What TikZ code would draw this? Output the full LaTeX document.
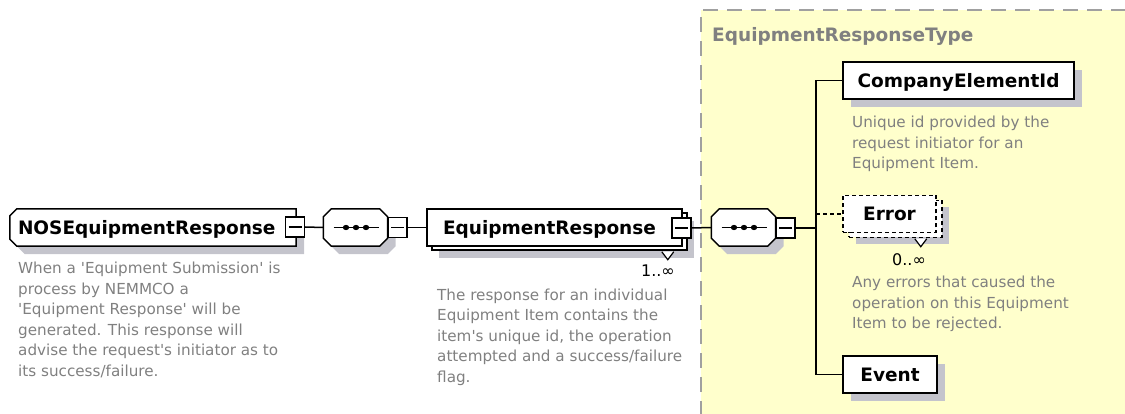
\documentclass[tikz,border=0pt]{standalone}
\usepackage{fontspec}
\setmainfont{DejaVu Sans}
\usetikzlibrary{shadows}
\definecolor{bgyellow}{RGB}{255,255,204}
\definecolor{framegray}{RGB}{160,160,160}
\definecolor{shadowgray}{RGB}{196,196,204}
\definecolor{descgray}{RGB}{128,128,128}
\newcommand\aq{\textquotesingle}
\pgfdeclarelayer{bg}
\pgfsetlayers{bg,main}
% chamfered outline of node #1, chamfer #2, shifted by (#3 right, #4 down); left corners only
\newcommand\leftoct[4]{([xshift={#3+#2},yshift={-#4}]#1.north west) -- ([xshift={#3},yshift={-#4}]#1.north east)
  -- ([xshift={#3},yshift={-#4}]#1.south east) -- ([xshift={#3+#2},yshift={-#4}]#1.south west)
  -- ([xshift={#3},yshift={-#4+#2}]#1.south west) -- ([xshift={#3},yshift={-#4-#2}]#1.north west) -- cycle}
% all corners chamfered
\newcommand\fulloct[4]{([xshift={#3+#2},yshift={-#4}]#1.north west) -- ([xshift={#3-#2},yshift={-#4}]#1.north east)
  -- ([xshift={#3},yshift={-#4-#2}]#1.north east) -- ([xshift={#3},yshift={-#4+#2}]#1.south east)
  -- ([xshift={#3-#2},yshift={-#4}]#1.south east) -- ([xshift={#3+#2},yshift={-#4}]#1.south west)
  -- ([xshift={#3},yshift={-#4+#2}]#1.south west) -- ([xshift={#3},yshift={-#4-#2}]#1.north west) -- cycle}
\tikzset{
  lw/.style={line width=1.5pt},
  namefont/.style={font=\fontsize{18.5}{22}\selectfont\bfseries},
  elembase/.style={namefont, lw, draw=black, fill=white, inner ysep=0pt,
    minimum height=37pt, text height=15pt, text depth=1.7pt},
  sshadow/.style={general shadow={fill=shadowgray, shadow xshift=8pt, shadow yshift=-8pt}},
  mshadow/.style={general shadow={fill=shadowgray, shadow xshift=12pt, shadow yshift=-12pt},
    general shadow={fill=white, draw=black, line width=1.5pt, shadow xshift=5pt, shadow yshift=-4pt}},
  dshadow/.style={general shadow={fill=shadowgray, shadow xshift=13pt, shadow yshift=-12pt},
    general shadow={fill=white, draw=black, line width=1.5pt, dash pattern=on 4pt off 3pt, shadow xshift=6pt, shadow yshift=-5pt}},
  elem/.style={elembase, rectangle, sshadow},
  octnode/.style={rectangle, inner ysep=0pt, minimum height=37pt, text height=15pt, text depth=1.7pt},
  octline/.style={lw, draw=black, fill=white},
  octshadow/.style={fill=shadowgray},
  seqnode/.style={rectangle, minimum width=64pt, minimum height=37pt, inner sep=0pt},
  minusbox/.style={draw=black, line width=1.3pt, fill=white, rectangle, minimum width=19pt,
    minimum height=20pt, inner sep=0pt,
    path picture={\draw[line width=1.3pt] ([xshift=3pt]path picture bounding box.west) -- ([xshift=-3pt]path picture bounding box.east);}},
  desc/.style={font=\fontsize{15.2}{20.5}\selectfont, text=descgray, align=left, anchor=north west, inner sep=0pt},
  mult/.style={font=\fontsize{16}{18}\selectfont, inner sep=0pt},
  conn/.style={lw},
  tri/.style={fill=white, line width=1.2pt}
}
\newcommand\seqdots[1]{%
  \draw[line width=1.5pt] ([xshift=-22pt]#1.center) -- ([xshift=23pt]#1.center);
  \fill[black] ([xshift=-9.5pt]#1.center) ellipse (3.2pt and 2.6pt);
  \fill[black] ([xshift=0.5pt]#1.center) ellipse (3.2pt and 2.6pt);
  \fill[black] ([xshift=10.5pt]#1.center) ellipse (3.2pt and 2.6pt);}
\begin{document}
\begin{tikzpicture}[x=1pt,y=-1pt]
\useasboundingbox (0,0) rectangle (1125,414);
% complex type area
\begin{pgfonlayer}{bg}
\fill[bgyellow] (701,10) rectangle (1127,416);
\draw[framegray, line width=2pt, dash pattern=on 15pt off 9pt] (701,416) -- (701,10) -- (1127,10);
\end{pgfonlayer}
\node[namefont, text=descgray, anchor=base west, inner sep=0pt] (title) at (712,41.7) {EquipmentResponseType};

% root element
\node[octnode, namefont, text width=270pt, align=left, inner xsep=8pt] (nos) at (153,227.5) {NOSEquipmentResponse};
\begin{pgfonlayer}{bg}
\fill[octshadow] \leftoct{nos}{7}{8}{8};
\draw[octline] \leftoct{nos}{7}{0}{0};
\end{pgfonlayer}
\node[minusbox] (nosm) at (295,227) {};
\node[desc] (nosdesc) at (18,258.95) {\strut When a \aq Equipment Submission\aq\ is\\process by NEMMCO a\\\aq Equipment Response\aq\ will be\\generated. This response will\\advise the request\aq s initiator as to\\its success/failure.};

% sequence 1
\node[seqnode] (seq1) at (355.5,227.5) {};
\begin{pgfonlayer}{bg}
\fill[octshadow] \fulloct{seq1}{8}{8}{8};
\draw[octline] \fulloct{seq1}{8}{0}{0};
\end{pgfonlayer}
\seqdots{seq1}
\node[minusbox] (seq1m) at (397.5,227.5) {};

% EquipmentResponse
\node[elembase, rectangle, mshadow, text width=223pt, align=left, inner xsep=16pt] (er) at (554.5,227.5) {EquipmentResponse};
\filldraw[tri] ([xshift=-21pt,yshift=-5pt]er.south east) -- ++(6,8) -- ++(6,-8);
\node[minusbox] (erm) at (681.5,228) {};
\node[mult, anchor=east] (ermult) at (675,271) {1..∞};
\node[desc] (erdesc) at (437,285.65) {\strut The response for an individual\\Equipment Item contains the\\item\aq s unique id, the operation\\attempted and a success/failure\\flag.};

% sequence 2
\node[seqnode] (seq2) at (743.5,227.5) {};
\begin{pgfonlayer}{bg}
\fill[octshadow] \fulloct{seq2}{8}{8}{8};
\draw[octline] \fulloct{seq2}{8}{0}{0};
\end{pgfonlayer}
\seqdots{seq2}
\node[minusbox] (seq2m) at (785.5,228) {};
\coordinate (bus) at (816,228);

% children
\node[elem, minimum width=231pt] (cei) at (958.5,80.5) {CompanyElementId};
\node[desc] (ceidesc) at (852,113.35) {\strut Unique id provided by the\\request initiator for an\\Equipment Item.};

\node[elembase, rectangle, dshadow, dash pattern=on 4pt off 3pt, minimum width=93pt] (err) at (889.5,214) {Error};
\filldraw[tri] ([xshift=-22pt,yshift=-5.5pt]err.south east) -- ++(6,8) -- ++(6,-8);
\node[mult] (errmult) at (909,260) {0..∞};
\node[desc] (errdesc) at (852,272.95) {\strut Any errors that caused the\\operation on this Equipment\\Item to be rejected.};

\node[elem, minimum width=94pt] (event) at (890,374.5) {Event};

% connectors
\draw[conn] (nosm.east) -- (seq1.west);
\draw[conn] (seq1m.east) -- (er.west);
\draw[conn] (erm.east) -- (seq2.west);
\draw[conn] (seq2m.east) -- (bus);
\draw[conn] (cei.west) -| (bus) |- (event.west);
\draw[conn, dash pattern=on 4pt off 3pt] (bus |- err.west) -- (err.west);
\end{tikzpicture}
\end{document}
